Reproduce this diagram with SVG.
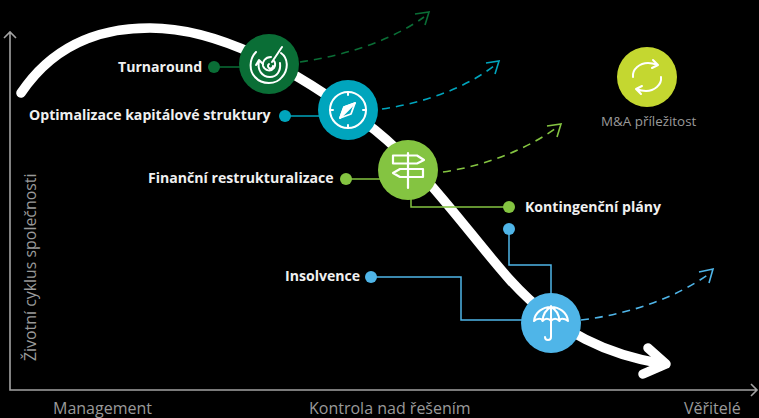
<svg xmlns="http://www.w3.org/2000/svg" width="759" height="418" viewBox="0 0 759 418">
<style>
text{font-family:"Open Sans","Liberation Sans",sans-serif}
.b{font-size:14.1px;font-weight:700;fill:#f0f0f0}
.g{font-size:16px;fill:#9a9a9a}
.ax{fill:none;stroke:#a3a3a3;stroke-width:1.6}
.ic{fill:none;stroke:#fff;stroke-width:2;stroke-linecap:round;stroke-linejoin:round}
.d{fill:none;stroke-width:1.6;stroke-dasharray:8 6}
.a{fill:none;stroke-width:1.6}
.l{fill:none;stroke-width:1.5}
</style>
<rect width="759" height="418" fill="#000"/>
<g id="axes">
<path class="ax" d="M10 33V390H757M4 38L10 32L16 38M751 384L757 390L751 396"/>
<text class="g" x="53" y="414">Management</text>
<text class="g" x="309" y="414">Kontrola nad řešením</text>
<text class="g" x="684" y="414">Věřitelé</text>
<text class="g" transform="translate(36 361) rotate(-90)" style="font-size:15.9px">Životní cyklus společnosti</text>
</g>
<g id="connectors">
<path d="M21 93C60 35 115 28 150 28C220 28 300 72 375 130C425 170 470 235 510 280C560 335 610 355 663 364" fill="none" stroke="#fff" stroke-width="9.5" stroke-linecap="round"/>
<path d="M648 348L666 364L643 374" fill="none" stroke="#fff" stroke-width="9.5" stroke-linecap="round" stroke-linejoin="round"/>
<path class="l" stroke="#0a6e36" d="M214 67H240"/>
<path class="l" stroke="#00a5bd" d="M285 116H319"/>
<path class="l" stroke="#84c441" d="M346 179H380"/>
<path class="l" stroke="#84c441" d="M411 199V207H508"/>
<path class="l" stroke="#4fb5e8" d="M509 229V265H551V294"/>
<path class="l" stroke="#4fb5e8" d="M371 277H461V320H522"/>
<path class="d" stroke="#0a6e36" d="M300 62C350 55 395 38 424 17"/>
<path class="a" stroke="#0a6e36" d="M415 14L429 12L425 25"/>
<path class="d" stroke="#00a5bd" d="M382 109C430 102 470 85 495 65"/>
<path class="a" stroke="#00a5bd" d="M486 63L499 61L495 74"/>
<path class="d" stroke="#84c441" d="M443 172C490 165 530 147 556 128"/>
<path class="a" stroke="#84c441" d="M547 126L561 124L557 137"/>
<path class="d" stroke="#4fb5e8" d="M581 320C630 314 675 298 709 274"/>
<path class="a" stroke="#4fb5e8" d="M699 272L713 269L709 283"/>
</g>
<g id="turnaround">
<circle cx="269" cy="64" r="30" fill="#0a6e36"/>
<circle cx="214" cy="67" r="6" fill="#0a6e36"/>
<path class="ic" d="M282 47L272 62M256 52C249 59 249 71 255 77C262 85 276 85 282 77C289 69 288 58 281 53"/>
<path class="ic" d="M259 61C257 70 262 77 270 77C277 77 281 71 280 63M256 65L259 60L263 64"/>
<path class="ic" d="M271 57C265 57 262 62 263 66C265 71 271 72 274 68C276 65 275 62 274 61M269 64A2.500 2.500 0 1 0 273 66"/>
<text class="b" x="118" y="72">Turnaround</text>
</g>
<g id="optimalizace">
<circle cx="348" cy="110" r="30" fill="#00a5bd"/>
<circle cx="285" cy="116" r="6" fill="#00a5bd"/>
<circle class="ic" cx="348" cy="110" r="18"/>
<path class="ic" d="M348 92v3M348 125v3M330 110h3M363 110h3"/>
<path d="M355 103L351 114L340 118L344 107Z" fill="#00a5bd" stroke="#fff" stroke-width="1.800" stroke-linejoin="round"/>
<path d="M355 103L344 107L340 118Z" fill="#fff" stroke="#fff" stroke-width="1.800" stroke-linejoin="round"/>
<text class="b" x="29" y="120">Optimalizace kapitálové struktury</text>
</g>
<g id="financni">
<circle cx="408" cy="170" r="30" fill="#84c441"/>
<circle cx="346" cy="179" r="6" fill="#84c441"/>
<path class="ic" style="stroke-width:2.200" d="M408 153V188M393 155.500H417L424 160L417 163.500H393ZM423 169H400L393 173L400 177H423Z"/>
<text class="b" x="148" y="183">Finanční restrukturalizace</text>
</g>
<g id="kontingencni">
<circle cx="509" cy="207" r="6" fill="#84c441"/>
<text class="b" x="525" y="212">Kontingenční plány</text>
</g>
<g id="insolvence">
<circle cx="551" cy="323" r="30" fill="#4fb5e8"/>
<circle cx="509" cy="229" r="6" fill="#4fb5e8"/>
<circle cx="371" cy="277" r="6" fill="#4fb5e8"/>
<path class="ic" d="M551 306V337C551 341 545 341 545 337M534 321C535 312 543 307 551 307C559 307 567 312 568 321C564 318 560 318 559.500 321C557 318 553 318 551 321C549 318 545 318 542.500 321C542 318 537 318 534 321ZM542.500 321C543 314 547 309 551 307C555 309 559 314 559.500 321"/>
<text class="b" x="285" y="281">Insolvence</text>
</g>
<g id="ma">
<circle cx="647" cy="77" r="30" fill="#c4d730"/>
<path class="ic" d="M633 77C632 69 640 63 648 63C652 63 655 64 658 65M653 60L658 65L652 68M661 77C662 85 654 91 646 91C642 91 639 90 636 89M641 94L636 89L642 86"/>
<text class="g" x="601" y="126" style="font-size:13.400px">M&amp;A příležitost</text>
</g>
</svg>
